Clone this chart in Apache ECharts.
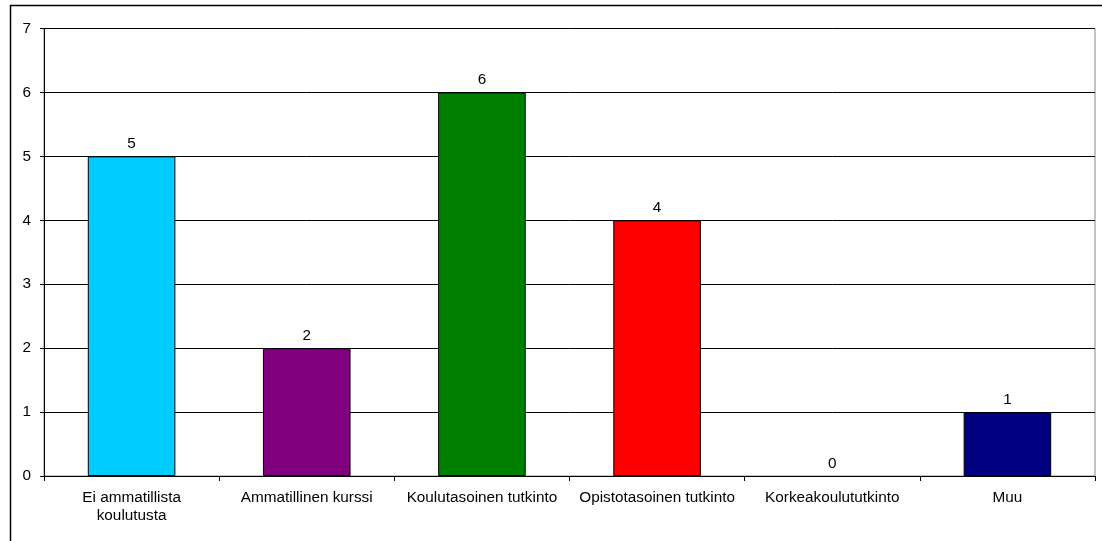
<!DOCTYPE html>
<html><head><meta charset="utf-8">
<script src="https://cdn.jsdelivr.net/npm/echarts@6/dist/echarts.min.js"></script>
<style>html,body{margin:0;padding:0;background:#fff}#c{width:1102px;height:541px}</style>
</head><body><div id="c"></div>
<script>
const categories = ["Ei ammatillista\nkoulutusta","Ammatillinen kurssi","Koulutasoinen tutkinto","Opistotasoinen tutkinto","Korkeakoulututkinto","Muu"];
const values = [5,2,6,4,0,1];
const colors = ["#00CCFF","#800080","#008000","#FF0000","#FFFFFF","#000080"];
const yTicks = {min:0,max:7,interval:1};

const chart = echarts.init(document.getElementById('c'), null, {renderer:'canvas'});
const font = 'Liberation Sans, Arial, sans-serif';
chart.setOption({
  animation:false,
  backgroundColor:'#fff',
  graphic:[{type:'rect',shape:{x:10.5,y:5.5,width:1200,height:700},style:{fill:'none',stroke:'#000',lineWidth:1.5},z:-1}],
  grid:{left:44,right:7,top:28.5,bottom:65,show:true,borderColor:'#888',borderWidth:1,backgroundColor:'transparent'},
  xAxis:{type:'category',data:categories,
    axisLine:{lineStyle:{color:'#000',width:1}},
    axisTick:{show:true,length:5,lineStyle:{color:'#000'},alignWithLabel:false},
    axisLabel:{color:'#000',fontSize:15.3,fontFamily:font,margin:13,lineHeight:18,interval:0}},
  yAxis:{type:'value',min:yTicks.min,max:yTicks.max,interval:yTicks.interval,
    axisLine:{show:true,lineStyle:{color:'#000'}},
    axisTick:{show:true,length:4,lineStyle:{color:'#000'}},
    splitLine:{lineStyle:{color:'#000',width:1}},
    axisLabel:{color:'#000',fontSize:15.3,fontFamily:font,margin:13}},
  series:[{type:'bar',barWidth:'50%',
    data:values.map((v,i)=>({value:v,itemStyle:{color:colors[i],borderWidth:v===0?0:1}})),
    itemStyle:{borderColor:'#000',borderWidth:1},
    label:{show:true,position:'top',color:'#000',fontSize:15.3,fontFamily:font,distance:5}}]
});
</script></body></html>
